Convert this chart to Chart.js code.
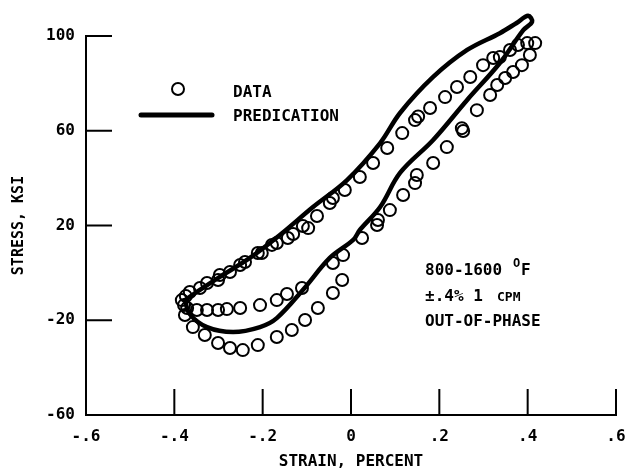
<!DOCTYPE html>
<html>
<head>
<meta charset="utf-8">
<script src="https://cdn.jsdelivr.net/npm/chart.js@4"></script>
<style>
  html, body { margin: 0; padding: 0; background: #fff; }
  #wrap { width: 639px; height: 473px; }
</style>
</head>
<body>
<div id="wrap"><canvas id="chart" width="639" height="473"></canvas></div>
<script>
// tick values
const xTicks = [-0.6, -0.4, -0.2, 0, 0.2, 0.4, 0.6];
const yTicks = [-60, -20, 20, 60, 100];

const dataStrain = [
  -0.383, -0.378, -0.374, -0.365, -0.342, -0.326, -0.301, -0.297, -0.274, -0.251,
  -0.240, -0.211, -0.202, -0.179, -0.168, -0.143, -0.131, -0.109, -0.097, -0.077,
  -0.048, -0.041, -0.014, 0.020, 0.050, 0.082, 0.116, 0.145, 0.152, 0.179, 0.213,
  0.240, 0.270, 0.299, 0.322, 0.337, 0.360, 0.378, 0.399, 0.417,
  0.405, 0.387, 0.367, 0.349, 0.331, 0.315, 0.285, 0.251, 0.254, 0.217, 0.186,
  0.149, 0.145, 0.118, 0.088, 0.061, 0.059, 0.025, -0.018, -0.041, -0.111,
  -0.145, -0.168, -0.206, -0.251, -0.281, -0.301, -0.326, -0.349, -0.371,
  -0.020, -0.041, -0.075, -0.104, -0.134, -0.168, -0.211, -0.245, -0.274,
  -0.301, -0.331, -0.358, -0.376
];
const dataStress = [
  -11.5, -13.6, -9.8, -8.1, -6.4, -4.3, -3.0, -0.9, 0.4, 3.3,
  4.6, 8.4, 8.4, 11.8, 12.6, 14.7, 16.4, 19.8, 18.9, 24.0,
  29.5, 31.6, 35.0, 40.5, 46.4, 52.7, 59.0, 64.5, 66.0, 69.6, 74.2,
  78.5, 82.7, 87.7, 90.7, 91.1, 94.1, 96.2, 97.0, 97.0,
  92.0, 87.7, 84.8, 82.3, 79.3, 75.1, 68.7, 61.1, 59.9, 53.1, 46.4,
  41.3, 37.9, 32.9, 26.5, 22.3, 20.2, 14.7, 7.5, 4.2, -6.4,
  -8.9, -11.5, -13.6, -14.8, -15.3, -15.7, -15.7, -15.7, -14.8,
  -3.0, -8.5, -14.8, -19.9, -24.1, -27.1, -30.5, -32.6, -31.7,
  -29.6, -26.2, -22.9, -17.8
];

// predicted loop, traced around from the compressive tip
const predStrain = [
  -0.376, -0.342, -0.297, -0.229, -0.161, -0.086, -0.009, 0.066, 0.111, 0.186,
  0.263, 0.337, 0.375, 0.401, 0.410, 0.390, 0.337, 0.263, 0.186, 0.111,
  0.066, 0.020, 0.005, -0.048, -0.109, -0.168, -0.206, -0.267, -0.326, -0.365, -0.376
];
const predStress = [
  -11.5, -7.2, -1.7, 6.3, 16.0, 27.8, 39.2, 54.8, 67.5, 82.7,
  94.1, 101.2, 105.5, 108.5, 106.0, 102.5, 88.6, 73.0, 56.1, 42.2,
  27.8, 18.1, 13.9, 6.3, -7.2, -19.1, -22.9, -25.0, -22.9, -17.4, -11.5
];

const FONT = '"DejaVu Sans Mono", "Liberation Mono", monospace';

const toXY = (xs, ys) => xs.map((x, i) => ({ x: x, y: ys[i] }));

function fmtStrain(v) {
  const r = Math.round(v * 10) / 10;
  if (r === 0) return '0';
  return (r < 0 ? '-' : '') + Math.abs(r).toFixed(1).replace(/^0/, '');
}

// inward tick marks, legend and condition notes
const decorations = {
  id: 'decorations',
  afterDraw(chart) {
    const ctx = chart.ctx;
    const xs = chart.scales.x, ys = chart.scales.y;
    const area = chart.chartArea;
    ctx.save();
    ctx.strokeStyle = '#000';
    ctx.lineWidth = 2;
    ctx.beginPath();
    yTicks.forEach(v => {
      const py = ys.getPixelForValue(v);
      ctx.moveTo(area.left, py);
      ctx.lineTo(area.left + 26, py);
    });
    xTicks.forEach(v => {
      const px = xs.getPixelForValue(v);
      ctx.moveTo(px, area.bottom);
      ctx.lineTo(px, area.bottom - 26);
    });
    ctx.stroke();

    // legend
    ctx.lineWidth = 2;
    ctx.beginPath();
    ctx.arc(178, 89, 6, 0, Math.PI * 2);
    ctx.stroke();
    ctx.lineWidth = 5;
    ctx.lineCap = 'round';
    ctx.beginPath();
    ctx.moveTo(141, 115);
    ctx.lineTo(212, 115);
    ctx.stroke();

    ctx.fillStyle = '#000';
    ctx.textBaseline = 'middle';
    ctx.textAlign = 'left';
    ctx.font = 'bold 16px ' + FONT;
    ctx.fillText('DATA', 233, 93);
    ctx.fillText('PREDICATION', 233, 117);

    // test conditions
    ctx.fillText('800-1600', 425, 271);
    ctx.font = 'bold 12px ' + FONT;
    ctx.fillText('O', 513, 264);
    ctx.font = 'bold 16px ' + FONT;
    ctx.fillText('F', 521, 271);
    ctx.fillText('\u00b1.4% 1', 425, 297);
    ctx.font = 'bold 13px ' + FONT;
    ctx.fillText('CPM', 497, 298);
    ctx.font = 'bold 16px ' + FONT;
    ctx.fillText('OUT-OF-PHASE', 425, 322);
    ctx.restore();
  }
};

const ctx = document.getElementById('chart').getContext('2d');

new Chart(ctx, {
  type: 'scatter',
  data: {
    datasets: [
      {
        label: 'PREDICATION',
        data: toXY(predStrain, predStress),
        showLine: true,
        borderColor: '#000',
        borderWidth: 4.5,
        borderCapStyle: 'round',
        borderJoinStyle: 'round',
        pointRadius: 0,
        tension: 0.35,
        fill: false,
        clip: false
      },
      {
        label: 'DATA',
        data: toXY(dataStrain, dataStress),
        showLine: false,
        pointStyle: 'circle',
        pointRadius: 6,
        borderWidth: 2,
        borderColor: '#000',
        backgroundColor: 'rgba(255,255,255,0)',
        clip: false
      }
    ]
  },
  options: {
    responsive: false,
    animation: false,
    layout: { padding: { top: 36, right: 23, left: 0, bottom: 0 } },
    plugins: {
      legend: { display: false },
      tooltip: { enabled: false }
    },
    scales: {
      x: {
        type: 'linear',
        min: -0.6,
        max: 0.6,
        afterBuildTicks: s => { s.ticks = xTicks.map(v => ({ value: v })); },
        afterFit: s => { s.height = 58; },
        grid: { display: false },
        border: { display: true, color: '#000', width: 2 },
        ticks: {
          color: '#000',
          padding: 4,
          maxRotation: 0,
          font: { family: FONT, size: 16, weight: 'bold' },
          callback: v => fmtStrain(v)
        },
        title: {
          display: true,
          text: 'STRAIN, PERCENT',
          color: '#000',
          font: { family: FONT, size: 16, weight: 'bold' },
          padding: { top: 0, bottom: 2 }
        }
      },
      y: {
        type: 'linear',
        min: -60,
        max: 100,
        afterBuildTicks: s => { s.ticks = yTicks.map(v => ({ value: v })); },
        afterFit: s => { s.width = 86; },
        grid: { display: false },
        border: { display: true, color: '#000', width: 2 },
        ticks: {
          color: '#000',
          padding: 3,
          font: { family: FONT, size: 16, weight: 'bold' },
          callback: v => String(v)
        },
        title: {
          display: true,
          text: 'STRESS, KSI',
          color: '#000',
          font: { family: FONT, size: 15, weight: 'bold' },
          padding: { top: 10, bottom: 0 }
        }
      }
    }
  },
  plugins: [decorations]
});
</script>
</body>
</html>
